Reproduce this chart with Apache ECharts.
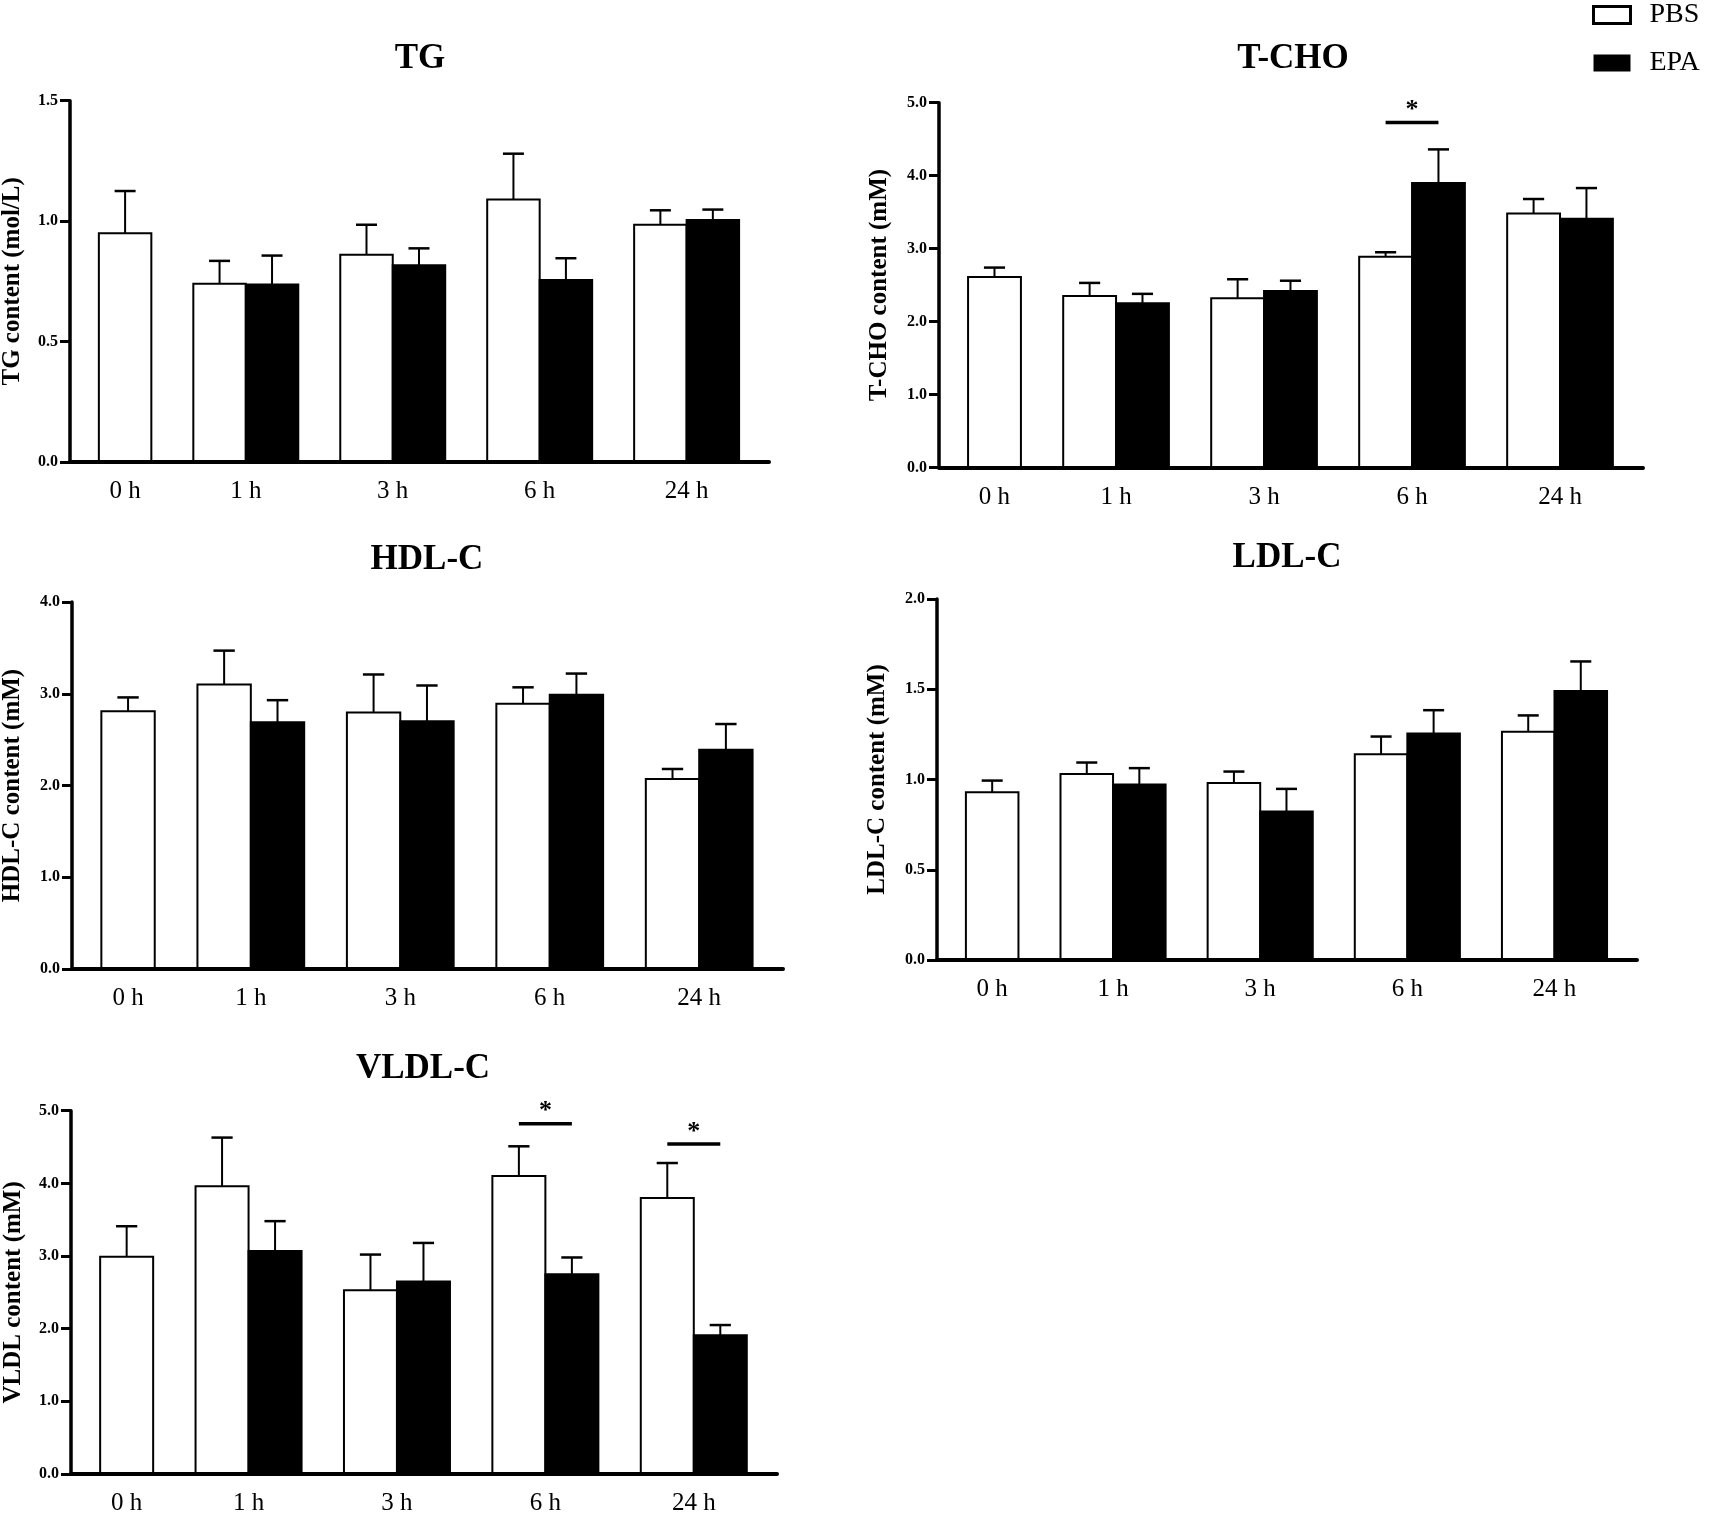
<!DOCTYPE html>
<html>
<head>
<meta charset="utf-8">
<title>Serum lipids</title>
<script src="https://cdn.jsdelivr.net/npm/echarts@6/dist/echarts.min.js"></script>
<style>
  html, body { margin: 0; padding: 0; background: #fff; }
  #chart { width: 1713px; height: 1515px; }
</style>
</head>
<body>
<div id="chart"></div>
<script>
// time points (x categories)
var categories = ['0 h', '1 h', '3 h', '6 h', '24 h'];

// TG (mol/L)
var tgPBS = [0.95, 0.74, 0.86, 1.09, 0.985];
var tgPBSErr = [1.125, 0.835, 0.985, 1.28, 1.045];
var tgEPA = [null, 0.737, 0.817, 0.756, 1.005];
var tgEPAErr = [null, 0.857, 0.887, 0.846, 1.048];
var tgSig = [];

// T-CHO (mM)
var tchoPBS = [2.61, 2.35, 2.32, 2.89, 3.48];
var tchoPBSErr = [2.74, 2.53, 2.58, 2.95, 3.68];
var tchoEPA = [null, 2.25, 2.42, 3.90, 3.41];
var tchoEPAErr = [null, 2.38, 2.56, 4.36, 3.83];
var tchoSig = [[3, 4.73]];

// HDL-C (mM)
var hdlPBS = [2.81, 3.10, 2.795, 2.89, 2.07];
var hdlPBSErr = [2.96, 3.47, 3.21, 3.07, 2.18];
var hdlEPA = [null, 2.69, 2.70, 2.99, 2.39];
var hdlEPAErr = [null, 2.93, 3.09, 3.22, 2.67];
var hdlSig = [];

// LDL-C (mM)
var ldlPBS = [0.93, 1.03, 0.98, 1.14, 1.265];
var ldlPBSErr = [0.994, 1.094, 1.044, 1.238, 1.355];
var ldlEPA = [null, 0.972, 0.823, 1.255, 1.49];
var ldlEPAErr = [null, 1.063, 0.948, 1.384, 1.654];
var ldlSig = [];

// VLDL-C (mM)
var vldlPBS = [2.99, 3.96, 2.53, 4.10, 3.80];
var vldlPBSErr = [3.41, 4.63, 3.02, 4.51, 4.28];
var vldlEPA = [null, 3.07, 2.65, 2.75, 1.91];
var vldlEPAErr = [null, 3.48, 3.18, 2.98, 2.05];
var vldlSig = [[3, 4.82], [4, 4.54]];

var FONT = "'Liberation Serif', 'Times New Roman', serif";

var panels = [
    {title: 'TG', yName: 'TG content (mol/L)', pbs: tgPBS, pbsErr: tgPBSErr, epa: tgEPA, epaErr: tgEPAErr, sig: tgSig,
     max: 1.5, interval: 0.5, grid: {left: 70, top: 100.7, width: 699, height: 361.3}, nameGap: 45, tx: 420, ty: 59},
    {title: 'T-CHO', yName: 'T-CHO content (mM)', pbs: tchoPBS, pbsErr: tchoPBSErr, epa: tchoEPA, epaErr: tchoEPAErr, sig: tchoSig,
     max: 5, interval: 1, grid: {left: 939, top: 102.7, width: 704, height: 364.8}, nameGap: 47, tx: 1293, ty: 59},
    {title: 'HDL-C', yName: 'HDL-C content (mM)', pbs: hdlPBS, pbsErr: hdlPBSErr, epa: hdlEPA, epaErr: hdlEPAErr, sig: hdlSig,
     max: 4, interval: 1, grid: {left: 72, top: 602, width: 711, height: 367}, nameGap: 47, tx: 427, ty: 559.5},
    {title: 'LDL-C', yName: 'LDL-C content (mM)', pbs: ldlPBS, pbsErr: ldlPBSErr, epa: ldlEPA, epaErr: ldlEPAErr, sig: ldlSig,
     max: 2, interval: 0.5, grid: {left: 937, top: 599, width: 700, height: 361}, nameGap: 47, tx: 1287, ty: 558},
    {title: 'VLDL-C', yName: 'VLDL content (mM)', pbs: vldlPBS, pbsErr: vldlPBSErr, epa: vldlEPA, epaErr: vldlEPAErr, sig: vldlSig,
     max: 5, interval: 1, grid: {left: 71, top: 1110.7, width: 706, height: 363.3}, nameGap: 45, tx: 423, ty: 1068.5}
];

// group layout in bar-width units (like the prism plot: a group holds 1 or 2 bars)
var PAD_L = 0.55, GAP = 0.8, PAD_R = 0.57;

function layoutGroups(epa) {
    var cur = PAD_L, centers = [], counts = [];
    for (var i = 0; i < epa.length; i++) {
        var n = epa[i] == null ? 1 : 2;
        centers.push(cur + n / 2);
        counts.push(n);
        cur += n + GAP;
    }
    return {centers: centers, counts: counts, total: cur - GAP + PAD_R};
}

function renderBar(fill) {
    return function (params, api) {
        var x = api.value(0), v = api.value(1), e = api.value(2);
        var p0 = api.coord([x - 0.5, v]);
        var p1 = api.coord([x + 0.5, 0]);
        var top = api.coord([x, v]);
        var et = api.coord([x, e]);
        var cl = api.coord([x - 0.2, e]);
        var cr = api.coord([x + 0.2, e]);
        return {
            type: 'group',
            children: [
                {type: 'line', shape: {x1: top[0], y1: top[1], x2: et[0], y2: et[1]},
                 style: {stroke: '#000', lineWidth: 2}},
                {type: 'line', shape: {x1: cl[0], y1: cl[1], x2: cr[0], y2: cr[1]},
                 style: {stroke: '#000', lineWidth: 2.5}},
                {type: 'rect', shape: {x: p0[0], y: p0[1], width: p1[0] - p0[0], height: p1[1] - p0[1]},
                 style: {fill: fill, stroke: '#000', lineWidth: 2}}
            ]
        };
    };
}

function renderSig(params, api) {
    var a = api.coord([api.value(0), api.value(2)]);
    var b = api.coord([api.value(1), api.value(2)]);
    return {
        type: 'group',
        children: [
            {type: 'line', shape: {x1: a[0], y1: a[1], x2: b[0], y2: b[1]},
             style: {stroke: '#000', lineWidth: 3.5}},
            {type: 'text', style: {text: '*', x: (a[0] + b[0]) / 2, y: a[1] + 1,
             font: 'bold 26px ' + FONT, fill: '#000',
             align: 'center', verticalAlign: 'bottom', textAlign: 'center', textVerticalAlign: 'bottom'}}
        ]
    };
}

var grids = [], xAxes = [], yAxes = [], series = [], graphics = [];

panels.forEach(function (p, i) {
    var lay = layoutGroups(p.epa);
    grids.push(Object.assign({outerBoundsMode: 'none', containLabel: false}, p.grid));

    xAxes.push({
        type: 'value', gridIndex: i, min: 0, max: lay.total, z: 10,
        axisLine: {show: true, onZero: false, lineStyle: {color: '#000', width: 4}},
        axisTick: {show: false},
        splitLine: {show: false},
        axisLabel: {
            customValues: lay.centers,
            formatter: function (v) {
                for (var k = 0; k < lay.centers.length; k++) {
                    if (Math.abs(lay.centers[k] - v) < 1e-6) return categories[k];
                }
                return '';
            },
            fontFamily: FONT, fontSize: 25, color: '#000', margin: 17
        }
    });

    yAxes.push({
        type: 'value', gridIndex: i, min: 0, max: p.max, interval: p.interval,
        name: p.yName, nameLocation: 'middle', nameGap: p.nameGap,
        nameTextStyle: {fontFamily: FONT, fontWeight: 'bold', fontSize: 25, color: '#000'},
        axisLine: {show: true, lineStyle: {color: '#000', width: 3.5}},
        axisTick: {show: true, length: 10, lineStyle: {color: '#000', width: 3}},
        axisLabel: {
            formatter: function (v) { return v.toFixed(1); },
            fontFamily: FONT, fontWeight: 'bold', fontSize: 16, color: '#000', margin: 12
        },
        splitLine: {show: false}
    });

    var pbsData = [], epaData = [];
    for (var k = 0; k < categories.length; k++) {
        var c = lay.centers[k];
        if (lay.counts[k] === 1) {
            pbsData.push([c, p.pbs[k], p.pbsErr[k]]);
        } else {
            pbsData.push([c - 0.5, p.pbs[k], p.pbsErr[k]]);
            epaData.push([c + 0.5, p.epa[k], p.epaErr[k]]);
        }
    }

    series.push({
        name: 'PBS', type: 'custom', xAxisIndex: i, yAxisIndex: i,
        itemStyle: {color: '#fff', borderColor: '#000'},
        encode: {x: 0, y: [1, 2]},
        renderItem: renderBar('#fff'), data: pbsData
    });
    series.push({
        name: 'EPA', type: 'custom', xAxisIndex: i, yAxisIndex: i,
        itemStyle: {color: '#000'},
        encode: {x: 0, y: [1, 2]},
        renderItem: renderBar('#000'), data: epaData
    });

    if (p.sig.length) {
        series.push({
            name: 'sig', type: 'custom', xAxisIndex: i, yAxisIndex: i, z: 5,
            encode: {x: [0, 1], y: 2},
            renderItem: renderSig,
            data: p.sig.map(function (s) {
                var c = lay.centers[s[0]];
                return [c - 0.5, c + 0.5, s[1]];
            })
        });
    }

    graphics.push({
        type: 'text', x: p.tx, y: p.ty,
        style: {text: p.title, font: 'bold 35px ' + FONT, fill: '#000',
                align: 'center', verticalAlign: 'middle', textAlign: 'center', textVerticalAlign: 'middle'}
    });
});

var myChart = echarts.init(document.getElementById('chart'));

var option = {
    animation: false,
    backgroundColor: '#fff',
    legend: {
        orient: 'vertical', left: 1592, top: 1, padding: 0,
        itemWidth: 37, itemHeight: 17, itemGap: 20,
        selectedMode: false,
        textStyle: {fontFamily: FONT, fontSize: 28, color: '#000', padding: [0, 0, 0, 14]},
        data: [
            {name: 'PBS', icon: 'rect', itemStyle: {color: '#fff', borderColor: '#000', borderWidth: 3}},
            {name: 'EPA', icon: 'rect', itemStyle: {color: '#000', borderColor: '#000', borderWidth: 0}}
        ]
    },
    graphic: graphics,
    grid: grids,
    xAxis: xAxes,
    yAxis: yAxes,
    series: series
};

myChart.setOption(option);
</script>
</body>
</html>
